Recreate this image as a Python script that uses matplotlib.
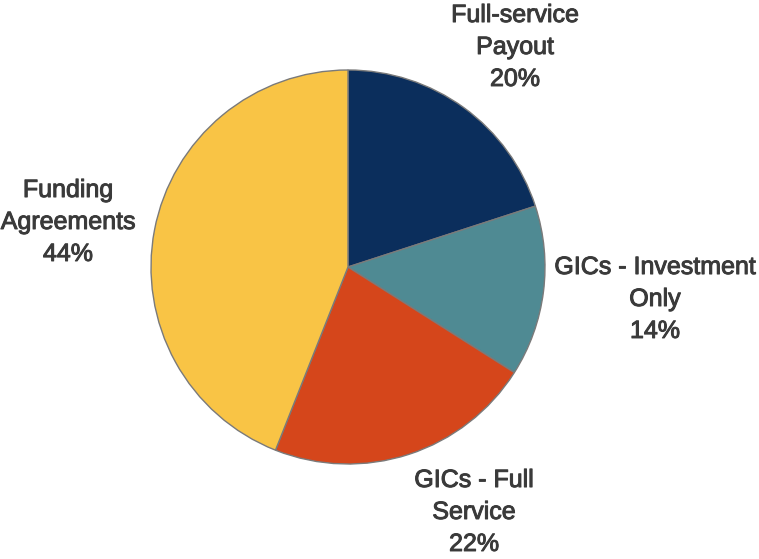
import matplotlib
matplotlib.use("Agg")
from matplotlib import pyplot as plt
import matplotlib.patheffects as pe

# slice data, clockwise from 12 o'clock
labels = ["Full-service\nPayout", "GICs - Investment\nOnly", "GICs - Full\nService", "Funding\nAgreements"]
shares = [20, 14, 22, 44]
colors = ["#0b2e5c", "#4f8a93", "#d5461b", "#f9c445"]

# label centres in pixel coords (figure is 759x559, y up)
label_xy = [(515, 512), (655, 260), (474, 47), (68, 337)]

fig = plt.figure(figsize=(7.59, 5.59), dpi=100)
ax = fig.add_axes([0, 0, 1, 1])
ax.set_xlim(0, 759)
ax.set_ylim(0, 559)
ax.axis("off")

ax.pie(shares, colors=colors, startangle=90, counterclock=False,
       center=(348, 292), radius=197,
       wedgeprops=dict(edgecolor="#7a7a7a", linewidth=1.0))
ax.set_xlim(0, 759)
ax.set_ylim(0, 559)

for lab, val, (x, y) in zip(labels, shares, label_xy):
    ax.text(x, y, f"{lab}\n{val}%", ha="center", va="center",
            fontsize=18, family="Liberation Sans", color="#3a3a3a",
            linespacing=1.42,
            path_effects=[pe.withStroke(linewidth=0.7, foreground="#3a3a3a")])

fig.savefig("out.png", dpi=100)
